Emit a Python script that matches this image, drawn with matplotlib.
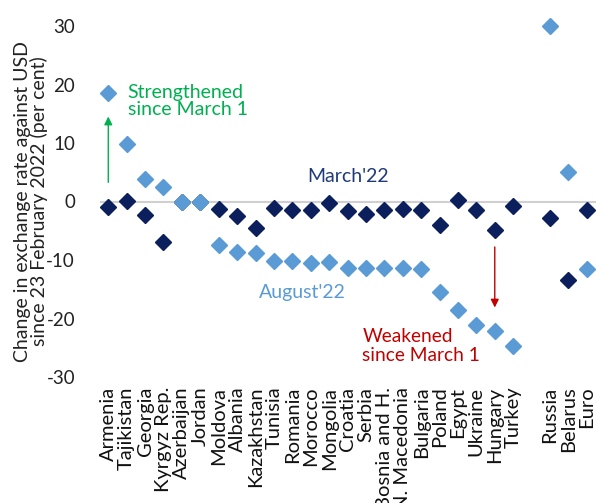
import matplotlib
matplotlib.use("Agg")
import matplotlib.pyplot as plt
import numpy as np

plt.rcParams['font.family'] = ['Lato', 'DejaVu Sans']

categories = ["Armenia", "Tajikistan", "Georgia", "Kyrgyz Rep.", "Azerbaijan", "Jordan",
              "Moldova", "Albania", "Kazakhstan", "Tunisia", "Romania", "Morocco",
              "Mongolia", "Croatia", "Serbia", "Bosnia and H.", "N. Macedonia", "Bulgaria",
              "Poland", "Egypt", "Ukraine", "Hungary", "Turkey",
              "Russia", "Belarus", "Euro"]
march22 = [-1.0, 0.1, -2.3, -7.0, 0.0, 0.0, -1.3, -2.4, -4.6, -1.1, -1.4, -1.4,
           -0.3, -1.7, -2.2, -1.4, -1.3, -1.4, -4.0, 0.2, -1.4, -4.8, -0.8,
           -2.9, -13.4, -1.4]
august22 = [18.6, 9.9, 3.8, 2.4, 0.0, 0.0, -7.4, -8.7, -8.8, -10.2, -10.2, -10.5,
            -10.4, -11.3, -11.4, -11.4, -11.3, -11.5, -15.4, -18.5, -21.1, -22.2, -24.7,
            30.0, 5.0, -11.6]
yticks = [-30, -20, -10, 0, 10, 20, 30]

navy = "#0b1f5c"
light = "#5b9bd5"

# positions: gap before the last group of three
n_main = 23
pos = [i if i < n_main else i + 1 for i in range(len(categories))]

fig = plt.figure(figsize=(5.96, 5.03), dpi=100)
ax = fig.add_axes([100/596, 1 - 377/503, 496/596, (377 - 26)/503])

ax.axhline(0, color="#d0d0d0", lw=1.5, zorder=0)
ax.plot(pos, march22, ls="none", marker="D", ms=8.5, color=navy, clip_on=False, zorder=2)
ax.plot(pos, august22, ls="none", marker="D", ms=8.5, color=light, mec=light,
        clip_on=False, zorder=3)

ax.set_xlim(-0.45, 26.5)
ax.set_ylim(-30, 30)
ax.set_yticks(yticks)
ax.set_yticklabels([str(v) for v in yticks], fontsize=13.5, color="#222222")
ax.set_xticks(pos)
ax.set_xticklabels(categories, rotation=90, fontsize=14.5, color="#111111")
ax.tick_params(axis='y', length=0, pad=18)
ax.tick_params(axis='x', length=0, pad=7)
for s in ax.spines.values():
    s.set_visible(False)

ax.set_ylabel("Change in exchange rate against USD\nsince 23 February 2022 (per cent)",
              fontsize=14, color="#222222", linespacing=0.95)
ax.yaxis.set_label_coords(-0.105, 0.5)

green = "#00b050"
red = "#c00000"
ax.annotate("", xy=(0, 15), xytext=(0, 2.8),
            arrowprops=dict(arrowstyle="-|>", color=green, lw=1, mutation_scale=12))
ax.text(1.05, 17.2, "Strengthened\nsince March 1", color=green, fontsize=14,
        va="center", ha="left", linespacing=1.05)
ax.annotate("", xy=(21, -18.6), xytext=(21, -7.3),
            arrowprops=dict(arrowstyle="-|>", color=red, lw=1, mutation_scale=12))
ax.text(13.8, -24.7, "Weakened\nsince March 1", color=red, fontsize=13.8,
        va="center", ha="left", linespacing=1.1)
ax.text(10.8, 4.2, "March'22", color="#1f3a7a", fontsize=14, va="center", ha="left")
ax.text(8.2, -15.5, "August'22", color=light, fontsize=14, va="center", ha="left")

fig.savefig("out.png", dpi=100)
